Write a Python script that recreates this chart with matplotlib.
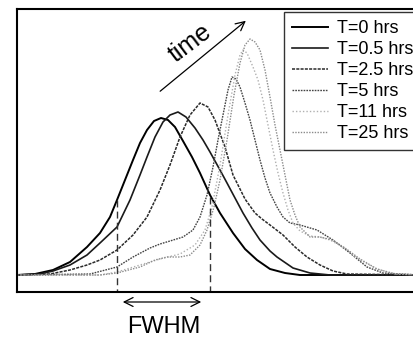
#!/usr/bin/env python3
"""Peak broadening over time - recreated spectra plot"""
import matplotlib
matplotlib.use("Agg")
import matplotlib.pyplot as plt

plt.rcParams["font.family"] = ["Liberation Sans", "DejaVu Sans"]

# ===== data (arbitrary units) =====
labels = ["T=0 hrs", "T=0.5 hrs", "T=2.5 hrs", "T=5 hrs", "T=11 hrs", "T=25 hrs"]

x_t0 = [17, 35, 53, 70, 87, 100, 110, 117, 125, 133, 140, 147, 154, 161, 168, 175,
        183, 192, 200, 210, 220, 233, 245, 257, 270, 285, 300, 420]
y_t0 = [0, 1, 5, 13, 28, 42, 58, 75, 95, 115, 132, 145, 154, 157, 155, 148,
        134, 118, 102, 80, 62, 42, 26, 15, 6, 2, 0, 0]

x_t05 = [17, 40, 53, 70, 87, 100, 117, 130, 140, 147, 155, 163, 170, 178, 186, 195,
         203, 210, 220, 227, 235, 243, 252, 260, 270, 277, 293, 310, 330, 420]
y_t05 = [0, 1, 4, 10, 20, 32, 48, 75, 100, 118, 138, 153, 160, 163, 158, 147,
         135, 123, 105, 92, 77, 62, 47, 35, 24, 18, 7, 2, 0, 0]

x_t25 = [17, 50, 70, 87, 100, 117, 133, 147, 160, 170, 180, 190, 200, 208, 215, 225,
         233, 245, 255, 262, 270, 283, 295, 307, 320, 333, 347, 420]
y_t25 = [0, 1, 5, 10, 15, 25, 40, 58, 85, 110, 138, 160, 172, 168, 155, 128,
         100, 76, 62, 56, 50, 40, 28, 18, 10, 4, 1, 0]

x_t5 = [17, 90, 117, 133, 150, 160, 170, 183, 193, 200, 207, 213, 218, 223, 228, 232,
        236, 240, 245, 250, 255, 260, 265, 270, 277, 283, 290, 300, 317, 333, 350, 367, 383, 420]
y_t5 = [0, 1, 8, 18, 27, 31, 34, 38, 45, 58, 80, 108, 135, 160, 185, 198,
        196, 188, 172, 155, 135, 115, 97, 82, 68, 58, 52, 50, 45, 35, 22, 8, 2, 0]

x_t11 = [17, 100, 117, 140, 160, 180, 195, 205, 212, 220, 228, 235, 240, 243, 247, 253,
         258, 263, 268, 273, 278, 283, 288, 293, 300, 310, 320, 330, 343, 360, 377, 395, 420]
y_t11 = [0, 0, 3, 10, 16, 21, 30, 45, 68, 110, 160, 200, 220, 225, 222, 208,
         195, 175, 150, 125, 102, 82, 65, 52, 44, 39, 38, 35, 28, 15, 6, 1, 0]

x_t250 = [17, 100, 117, 140, 155, 167, 180, 190, 200, 207, 214, 220, 227, 234, 240, 245,
          250, 255, 260, 265, 270, 275, 280, 285, 290, 295, 300, 310, 320, 332, 345, 360, 377, 395, 420]
y_t250 = [0, 0, 2, 8, 15, 18, 18, 20, 30, 45, 68, 95, 135, 180, 212, 230,
          236, 233, 225, 205, 178, 150, 125, 100, 75, 60, 48, 38, 38, 35, 27, 16, 6, 1, 0]

# FWHM markers of the T=0 curve
fwhm_left, fwhm_right = 117, 210
fwhm_h_left, fwhm_h_right = 75, 78

series = [
    (x_t0, y_t0, "black", "-", 1.4),
    (x_t05, y_t05, "#1a1a1a", "-", 1.2),
    (x_t25, y_t25, "#2a2a2a", (0, (2, 0.8)), 1.1),
    (x_t5, y_t5, "#444444", (0, (1.2, 0.8)), 1.0),
    (x_t11, y_t11, "#b0b0b0", (0, (1, 1.5)), 1.0),
    (x_t250, y_t250, "#8a8a8a", (0, (1, 1)), 1.0),
]

fig = plt.figure(figsize=(4.14, 3.42), dpi=100)
ax = fig.add_axes([17 / 414, 50 / 342, 403 / 414, 283 / 342])

for (xs, ys, c, ls, lw), lab in zip(series, labels):
    ax.plot(xs, ys, color=c, linestyle=ls, linewidth=lw, label=lab)

ax.set_xlim(17, 420)
ax.set_ylim(-17, 266)
ax.set_xticks([])
ax.set_yticks([])
for s in ["left", "top", "bottom"]:
    ax.spines[s].set_linewidth(1.5)
ax.spines["right"].set_visible(False)

# 半高宽虚线
ax.plot([fwhm_left, fwhm_left], [fwhm_h_left, -17], color="#333333",
        linestyle=(0, (5, 3)), linewidth=1.0, clip_on=False)
ax.plot([fwhm_right, fwhm_right], [fwhm_h_right, -17], color="#333333",
        linestyle=(0, (5, 3)), linewidth=1.0, clip_on=False)

ax.annotate("", xy=(fwhm_left + 3, -27), xytext=(fwhm_right - 6, -27),
            arrowprops=dict(arrowstyle="<->", lw=0.9, color="black",
                            mutation_scale=16), annotation_clip=False)
ax.text(164, -52, "FWHM", ha="center", va="center", fontsize=17,
        clip_on=False)

# time arrow
ax.annotate("", xy=(248, 256), xytext=(158, 182),
            arrowprops=dict(arrowstyle="->", lw=0.9, color="black",
                            mutation_scale=16), annotation_clip=False)
ax.text(190, 232, "time", ha="center", va="center", fontsize=18,
        rotation=37, rotation_mode="anchor")

leg = ax.legend(loc="upper left", bbox_to_anchor=(284 / 414, 1 - 12 / 342),
                bbox_transform=fig.transFigure, fontsize=13, frameon=True,
                fancybox=False, edgecolor="black", handlelength=2.0,
                handletextpad=0.5, labelspacing=0.22, borderpad=0.45,
                borderaxespad=0)
leg.get_frame().set_linewidth(1.0)

fig.savefig("out.png", dpi=100)
plt.close()
